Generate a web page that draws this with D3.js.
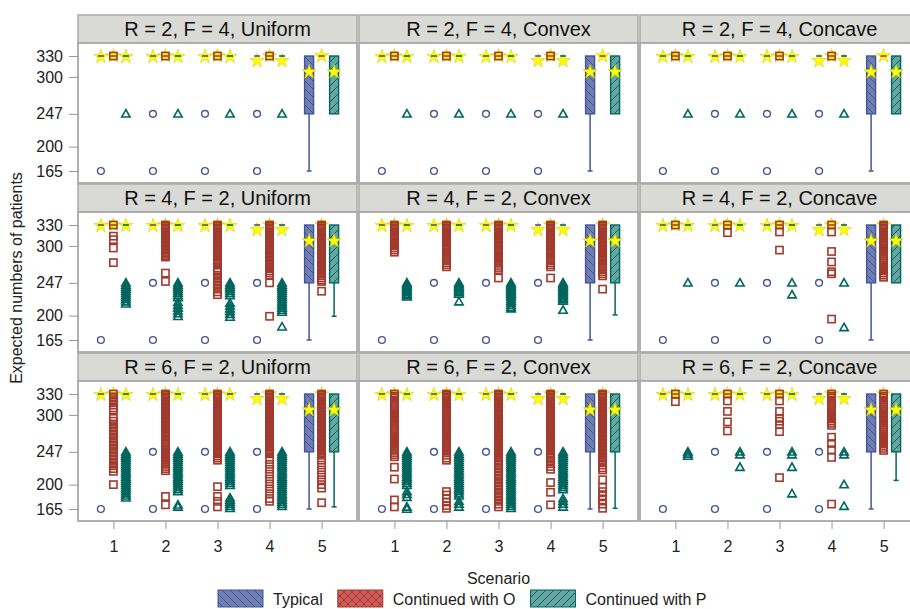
<!DOCTYPE html>
<html>
<head>
<meta charset="utf-8">
<script src="https://cdnjs.cloudflare.com/ajax/libs/d3/7.8.5/d3.min.js"></script>
<style>
body { margin: 0; background: #fff; }
</style>
</head>
<body>
<div id="chart"></div>
<script>

// ---- data ----
var panelTitles = [
  "R = 2, F = 4, Uniform", "R = 2, F = 4, Convex", "R = 2, F = 4, Concave",
  "R = 4, F = 2, Uniform", "R = 4, F = 2, Convex", "R = 4, F = 2, Concave",
  "R = 6, F = 2, Uniform", "R = 6, F = 2, Convex", "R = 6, F = 2, Concave"
]
var scenarios = [1, 2, 3, 4, 5]
var groupNames = ["Typical", "Continued with O", "Continued with P"]
var yTicks = [165, 200, 247, 300, 330]

// box statistics by scenario (same in every panel)
var typQ1 = [330, 330, 330, 330, 247]
var typQ3 = [330, 330, 330, 330, 330]
var typLow = [330, 330, 330, 330, 165]
var typMean = [329, 329, 329, 323, 307]
var typOut = [[165], [247, 165], [247, 165], [247, 165], []]

var oQ1 = [330, 330, 330, 330, 330]
var oQ3 = [330, 330, 330, 330, 330]
var oLow = [330, 330, 330, 330, 330]
var oMean = [330, 330, 330, 330, 330]

var pQ1 = [330, 330, 330, 330, 247]
var pQ3 = [330, 330, 330, 330, 330]
var pLowS1to4 = [330, 330, 330, 330]
var pMean = [329, 329, 329, 323, 307]
// lower whisker of P box at scenario 5, one per panel
var pLow5 = [247, 247, 247, 199, 201, 247, 168, 166, 206]

// outliers, [scenario 1..5]
var oR2 = [[330], [330], [330], [330], []]
var pR2 = [[247], [247], [247], [247], []]

var oR4Uniform = [
  [330, 314, 309, 297, 276],
  [330,328,326,324,322,320,318,316,314,312,310,308,306,304,302,300,298,296,294,292,290,288,286,284, 261, 249],
  [330,328,326,324,322,320,318,316,314,312,310,308,306,304,302,300,298,296,294,292,290,288,286,284,282,280,278,276,274,
   266,262,258,254,250,246,242,238,234,230],
  [330,328,326,324,322,320,318,316,314,312,310,308,306,304,302,300,298,296,294,292,290,288,286,284,282,
   279,276,273,270,267,264,261,258, 247, 199],
  [330,328,326,324,322,320,318,316,314,312,310,308,306,304,302,300,298,296,294,292,290,288,286,284,282,280,278,276,274,272,270,268,266,264,262,260,
   257,254,251,249, 235]
]
var pR4Uniform = [
  [247,244,241,238,235,232,229,226,223,220,217],
  [247,244,241,238,235,232,229,226, 219,215,211,207,203,199],
  [247,244,241,238,235,232,229, 218,214,210,206,202,198],
  [247,244,241,238,235,232,229,226,223,220,217,214,211,208,205, 184],
  []
]
var oR4Convex = [
  [330,328,326,324,322,320,318,316,314,312, 309,306,303,300,297,294,291],
  [330,328,326,324,322,320,318,316,314,312,310,308,306,304,302,300, 297,294,291,288,285,282,279,276,273,270],
  [330,328,326,324,322,320,318,316,314,312,310,308,306,304,302,300,298,296, 293,290,287,284,281,278,275,272,269,266, 254],
  [330,328,326,324,322,320,318,316,314,312,310,308,306,304,302,300,298,296,294,292,290,288, 285,282,279,276,273,270, 254],
  [330,328,326,324,322,320,318,316,314,312,310,308,306,304,302,300,298,296,294,292,290,288,286,284,282,280,278,
   275,272,269,266,263,260,257, 238]
]
var pR4Convex = [
  [247,245,243,241,239,237,235,233,231,229,227],
  [247,245,243,241,239,237,235,233,231, 220],
  [247,245,243,241,239,237,235,233,231,229,227, 224,221,218,215,212,210],
  [247,245,243,241,239,237,235,233,231,229,227,225,223,221, 208],
  []
]
var oR4Concave = [
  [330],
  [330, 319],
  [330, 320, 294],
  [330, 320, 292, 277, 263, 260, 195],
  [330,328,326,324,322,320,318,316,314,312,310,308,306,
   303,300,297,294,291,288,285,282,279,276,273,270,267,264,261,258,255]
]
var pR4Concave = [[247], [247], [247, 230], [247, 183], []]

var oR6Uniform = [
  [330,326,322,318,314,310,307, 295,291,287,283,279,275,271,267,263,259,255,251,247,243,239,235,231,227,223,219, 200],
  [330,328,326,324,322,320,318,316,314,312,310,308,306,304,302,300,298,296,294,292,290,288,286,284,282,280,278,276,274,272,270,268,
   265,262,259,256,253,250,247,244,241,238,235,232,229,226,223,220, 183, 171],
  [330,328,326,324,322,320,318,316,314,312,310,308,306,304,302,300,298,296,294,292,290,288,286,284,282,280,278,276,274,272,270,268,266,264,262,260,258,256,254,252,250,
   247,244,241,238,235, 197,183,176,168],
  [330,328,326,324,322,320,318,316,314,312,310,308,306,304,302,300,298,296,294,292,290,288,286,284,282,280,278,276,274,272,270,268,266,264,262,260,258,256,254,252,250,248,246,244,
   236,229,222,215,208,201,194,187,180,176],
  [330,328,326,324,322,320,318,316,314,312,310,308,306,304,302,300,298,296,294,292,290,288,286,284,282,280,278,276,274,272,270,268,266,264,262,260,258,256,254,252,250,248,246,244,242,
   235,228,221,214,207,200,195, 174]
]
var pR6Uniform = [
  [247,244,241,238,235,232,229,226,223,220,217,214,211,208,205,202,199,196,193,190,187,184,181],
  [247,244,241,238,235,232,229,226,223,220,217,214,211,208,205,202,199,196,193,190, 171,168],
  [247,244,241,238,235,232,229,226,223,220,217,214,211,208,205,202,199, 181,178,175,172,169,166],
  [247,244,241,238,235,232,229,226,223,220,217,214,211,208,205,202,199,196,193,190,187,184,181,178,175,172,169],
  []
]
var oR6Convex = [
  [330,327,324,321,318,315,312,309,306,303,300,297,294,291,288,285,282,279,276,273,270,267,264,261,258,255,252,249,246,243,240,
   225, 208, 178, 168],
  [330,328,326,324,322,320,318,316,314,312,310,308,306,304,302,300,298,296,294,292,290,288,286,284,282,280,278,276,274,272,270,268,266,264,262,260,258,256,254,252,250,
   246,242,238,235, 190,185,180,175,170,166],
  [330,328,326,324,322,320,318,316,314,312,310,308,306,304,302,300,298,296,294,292,290,288,286,284,282,280,278,276,274,272,270,268,266,264,262,260,258,256,254,252,250,248,246,244,242,240,
   236,232,228,224,220,216,212,208,204,200,196,192,188,184,180,176,172,168],
  [330,328,326,324,322,320,318,316,314,312,310,308,306,304,302,300,298,296,294,292,290,288,286,284,282,280,278,276,274,272,270,268,266,264,262,260,258,256,254,252,250,
   246,242,238,234,230,226,222, 203,189,171],
  [330,328,326,324,322,320,318,316,314,312,310,308,306,304,302,300,298,296,294,292,290,288,286,284,282,280,278,276,274,272,270,268,266,264,262,260,258,256,254,252,250,248,246,244,242,240,
   236,232,228,224,221, 207,196,190,184,178,172,166]
]
var pR6Convex = [
  [247,244,241,238,235,232,229,226,223,220,217,214,211,208,205,202,199, 190,186,182, 168,165],
  [247,244,241,238,235,232,229,226,223,220,217,214,211,208,205,202,199,196,193,190,187,184, 176,172,168],
  [247,244,241,238,235,232,229,226,223,220,217,214,211,208,205,202,199,196,193,190,187,184,181,178,175,172,169,166],
  [247,244,241,238,235,232,229,226,223,220,217,214,211,208,205,202,199,196,193, 180,176,172,168],
  []
]
var oR6Concave = [
  [330, 319],
  [330, 320, 305, 290, 277],
  [330, 320, 305, 295, 291, 286, 276, 210],
  [330,327,324,321,318,315,312,309,306,303,300,297,294,291,288,285, 268, 259, 250, 239, 172],
  [330,327,324,321,318,315,312,309,306,303,300,297,294,291,288,285,282,279,276,273,270,267,264,261,258,255,252,249]
]
var pR6Concave = [[247, 244, 241], [247, 243, 225], [247, 243, 225, 187], [247, 243, 200, 169], []]

var oOutliers = [oR2, oR2, oR2, oR4Uniform, oR4Convex, oR4Concave, oR6Uniform, oR6Convex, oR6Concave]
var pOutliers = [pR2, pR2, pR2, pR4Uniform, pR4Convex, pR4Concave, pR6Uniform, pR6Convex, pR6Concave]

// ---- style ----
var fontFam = "'Liberation Sans', Arial, Helvetica, sans-serif"
var lineCol = { "Typical": "#445694", "Continued with O": "#A23A2E", "Continued with P": "#01665E" }
var fillCol = { "Typical": "#6F7EB3", "Continued with O": "#D05B5B", "Continued with P": "#66A5A0" }
var patId = { "Typical": "hatchTyp", "Continued with O": "hatchO", "Continued with P": "hatchP" }

var colLeft = [78, 359, 640]
var rowTop = [15, 184, 353]
var panelW = 279, headH = 28, plotH = 140
var frameCol = "#A9A9A9"

var svg = d3.select("#chart").append("svg")
  .attr("width", 910).attr("height", 609)
  .style("font-family", fontFam)

// hatch fills like the SAS style
var defs = svg.append("defs")
function addPattern(id, fill, stroke, d) {
  var p = defs.append("pattern").attr("id", id)
    .attr("patternUnits", "userSpaceOnUse").attr("width", 8).attr("height", 8)
  p.append("rect").attr("width", 8).attr("height", 8).attr("fill", fill)
  p.append("path").attr("d", d).attr("stroke", stroke).attr("stroke-width", 1).attr("fill", "none")
}
var back = "M-2,-2L10,10M-2,6L2,10M6,-2L10,2"
var fwd = "M-2,10L10,-2M-2,2L2,-2M6,10L10,6"
addPattern("hatchTyp", fillCol["Typical"], lineCol["Typical"], back)
addPattern("hatchO", fillCol["Continued with O"], lineCol["Continued with O"], back + fwd)
addPattern("hatchP", fillCol["Continued with P"], lineCol["Continued with P"], fwd)

var star = d3.symbol().type(d3.symbolStar).size(62)()
var tri = "M0,-4.2L4.2,3.2L-4.2,3.2Z"
var boxW = 9

var gx = d3.scalePoint().domain(groupNames).range([-12.5, 12.5])

panelTitles.forEach(function (title, p) {
  var r = Math.floor(p / 3), c = p % 3
  var left = colLeft[c], top = rowTop[r] + headH
  var g = svg.append("g")

  // header strip
  g.append("rect")
    .attr("x", left).attr("y", rowTop[r]).attr("width", panelW).attr("height", headH)
    .attr("fill", "#D9DAD5").attr("stroke", frameCol).attr("stroke-width", 1.5)
  g.append("text")
    .attr("x", left + panelW / 2).attr("y", rowTop[r] + 21)
    .attr("text-anchor", "middle").attr("font-size", 20).attr("fill", "#111")
    .text(title)

  // plot area
  g.append("rect")
    .attr("x", left).attr("y", top).attr("width", panelW).attr("height", plotH)
    .attr("fill", "#fff").attr("stroke", frameCol).attr("stroke-width", 1.8)

  var x = d3.scalePoint().domain(scenarios).range([left, left + panelW]).padding(0.68)
  var y = d3.scaleLinear().domain([165, 330]).range([top + 128, top + 13])

  var groups = [
    { key: "Typical", q1: typQ1, q3: typQ3, low: typLow, mean: typMean, out: typOut },
    { key: "Continued with O", q1: oQ1, q3: oQ3, low: oLow, mean: oMean, out: oOutliers[p] },
    { key: "Continued with P", q1: pQ1, q3: pQ3, low: pLowS1to4.concat([pLow5[p]]), mean: pMean, out: pOutliers[p] }
  ]
  var recs = []
  groups.forEach(function (grp) {
    scenarios.forEach(function (s, i) {
      recs.push({ key: grp.key, cx: x(s) + gx(grp.key), q1: grp.q1[i], q3: grp.q3[i],
        low: grp.low[i], mean: grp.mean[i], out: grp.out[i] })
    })
  })

  // real boxes with whiskers
  var full = recs.filter(function (d) { return d.q3 > d.q1 })
  g.selectAll(".whisk").data(full).enter().append("line")
    .attr("x1", function (d) { return d.cx }).attr("x2", function (d) { return d.cx })
    .attr("y1", function (d) { return y(d.q1) }).attr("y2", function (d) { return y(d.low) })
    .attr("stroke", function (d) { return lineCol[d.key] }).attr("stroke-width", 1.5)
  g.selectAll(".cap").data(full.filter(function (d) { return d.low < d.q1 })).enter().append("line")
    .attr("x1", function (d) { return d.cx - 2.5 }).attr("x2", function (d) { return d.cx + 2.5 })
    .attr("y1", function (d) { return y(d.low) }).attr("y2", function (d) { return y(d.low) })
    .attr("stroke", function (d) { return lineCol[d.key] }).attr("stroke-width", 1.5)
  g.selectAll(".box").data(full).enter().append("rect")
    .attr("x", function (d) { return d.cx - boxW / 2 }).attr("width", boxW)
    .attr("y", function (d) { return y(d.q3) })
    .attr("height", function (d) { return y(d.q1) - y(d.q3) })
    .attr("fill", function (d) { return "url(#" + patId[d.key] + ")" })
    .attr("stroke", function (d) { return lineCol[d.key] }).attr("stroke-width", 1.4)

  // means
  g.selectAll(".mean").data(recs).enter().append("path")
    .attr("d", star)
    .attr("transform", function (d) { return "translate(" + d.cx + "," + y(d.mean) + ")" })
    .attr("fill", "#FFFF00").attr("stroke", "#D6CC00").attr("stroke-width", 0.6)

  // collapsed boxes drawn as a dash
  var flat = recs.filter(function (d) { return d.q3 === d.q1 })
  g.selectAll(".flat").data(flat).enter().append("line")
    .attr("x1", function (d) { return d.cx - 3 }).attr("x2", function (d) { return d.cx + 3 })
    .attr("y1", function (d) { return y(d.q1) }).attr("y2", function (d) { return y(d.q1) })
    .attr("stroke", function (d) { return lineCol[d.key] }).attr("stroke-width", 1.6)

  // outliers
  var pts = []
  recs.forEach(function (d) {
    d.out.forEach(function (v) { pts.push({ key: d.key, cx: d.cx, v: v }) })
  })
  pts.forEach(function (d) {
    var col = lineCol[d.key], cy = y(d.v)
    if (d.key === "Typical") {
      g.append("circle").attr("cx", d.cx).attr("cy", cy).attr("r", 3.4)
        .attr("fill", "none").attr("stroke", col).attr("stroke-width", 1.4)
    } else if (d.key === "Continued with O") {
      g.append("rect").attr("x", d.cx - 3.6).attr("y", cy - 3.6).attr("width", 7.2).attr("height", 7.2)
        .attr("fill", "none").attr("stroke", col).attr("stroke-width", 1.6)
    } else {
      g.append("path").attr("d", tri).attr("transform", "translate(" + d.cx + "," + cy + ")")
        .attr("fill", "none").attr("stroke", col).attr("stroke-width", 1.6)
    }
  })

  // axes
  if (c === 0) {
    var ay = g.append("g").attr("transform", "translate(" + left + ",0)")
      .call(d3.axisLeft(y).tickValues(yTicks).tickSize(9).tickPadding(6))
      .attr("font-size", 16).attr("font-family", fontFam)
    ay.select(".domain").remove()
    ay.selectAll("line").attr("stroke", "#999")
    ay.selectAll("text").attr("fill", "#222")
  }
  if (r === 2) {
    var ax = g.append("g").attr("transform", "translate(0," + (top + plotH) + ")")
      .call(d3.axisBottom(x).tickSize(8).tickPadding(12))
      .attr("font-size", 16).attr("font-family", fontFam)
    ax.select(".domain").remove()
    ax.selectAll("line").attr("stroke", "#999")
    ax.selectAll("text").attr("fill", "#222")
  }
})

// axis titles
svg.append("text")
  .attr("transform", "translate(22,278) rotate(-90)")
  .attr("text-anchor", "middle").attr("font-size", 16).attr("fill", "#222")
  .text("Expected numbers of patients")
svg.append("text")
  .attr("x", colLeft[1] + panelW / 2).attr("y", 584)
  .attr("text-anchor", "middle").attr("font-size", 16).attr("fill", "#222")
  .text("Scenario")

// legend
var lx = 218
groupNames.forEach(function (name) {
  svg.append("rect").attr("x", lx).attr("y", 590).attr("width", 45).attr("height", 17)
    .attr("fill", "url(#" + patId[name] + ")").attr("stroke", lineCol[name]).attr("stroke-width", 1)
  var t = svg.append("text").attr("x", lx + 55).attr("y", 605)
    .attr("font-size", 16).attr("fill", "#222").text(name)
  lx += 55 + t.node().getComputedTextLength() + 15
})

</script>
</body>
</html>
